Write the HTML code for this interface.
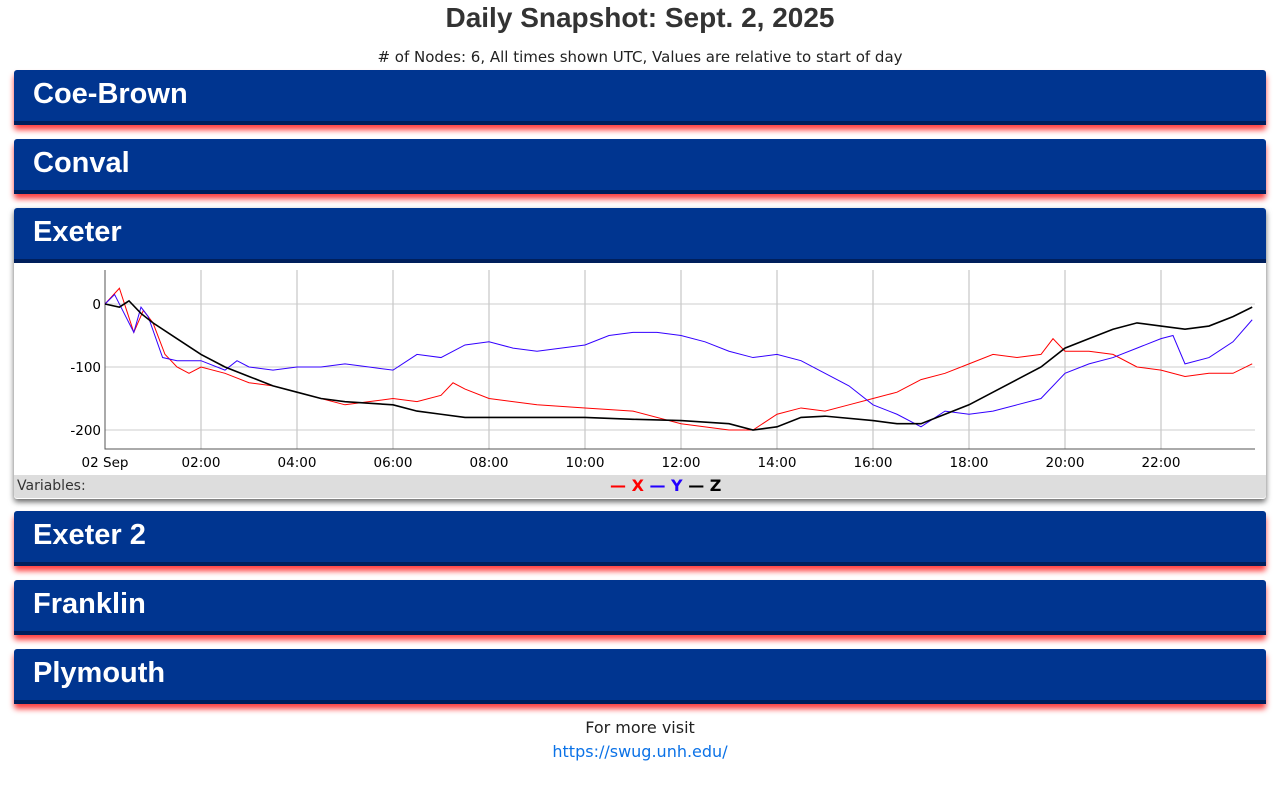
<!DOCTYPE html>
<html><head><meta charset="utf-8"><style>
body{margin:0;width:1280px;height:789px;background:#fff;font-family:"DejaVu Sans","Liberation Sans",sans-serif;overflow:hidden;position:relative}
.title{position:absolute;top:2px;left:0;width:1280px;text-align:center;font:bold 28px "Liberation Sans",sans-serif;color:#333}
.sub{position:absolute;top:48px;left:0;width:1280px;text-align:center;font-size:15px;color:#222}
.panel{position:absolute;left:14px;width:1252px;border-radius:3px;box-shadow:0 5px 6px rgba(255,0,0,.75)}
.hdr{height:51px;background:#003590;border-bottom:4px solid #001f5c;border-radius:3px 3px 0 0;color:#fff;font:bold 29px "Liberation Sans",sans-serif;padding-left:19px;line-height:48px}
.foot{position:absolute;top:718px;width:1280px;text-align:center;font-size:16px;color:#222}
.link{position:absolute;top:742px;width:1280px;text-align:center;font-size:16px;color:#0b72e7}
</style></head><body>
<div class="title">Daily Snapshot: Sept. 2, 2025</div>
<div class="sub"># of Nodes: 6, All times shown UTC, Values are relative to start of day</div>
<div class="panel" style="top:70px"><div class="hdr">Coe-Brown</div></div>
<div class="panel" style="top:139px"><div class="hdr">Conval</div></div>
<div class="panel" style="top:208px;height:291px;box-shadow:0 3px 6px rgba(0,0,0,.6);background:#fff">
<div class="hdr">Exeter</div>
<svg id="chart" width="1252" height="212" style="position:absolute;left:0;top:56px"></svg>
<div style="position:absolute;left:0;top:267px;width:1252px;height:23px;background:#ddd;font-size:14px;color:#333;border-radius:0 0 3px 3px"><span style="position:absolute;left:3px;top:3px">Variables:</span>
<span style="position:absolute;left:596px;top:1px;font:bold 16px 'DejaVu Sans',sans-serif"><span style="color:#f00">— X</span> <span style="color:#20f">— Y</span> <span style="color:#000">— Z</span></span></div>
</div>
<div class="panel" style="top:511px"><div class="hdr">Exeter 2</div></div>
<div class="panel" style="top:580px"><div class="hdr">Franklin</div></div>
<div class="panel" style="top:649px"><div class="hdr">Plymouth</div></div>
<div class="foot">For more visit</div>
<div class="link">https://swug.unh.edu/</div>
<script>
const xHours=[0,0.3,0.6,0.8,1,1.25,1.5,1.75,2,2.5,3,3.5,4,4.5,5,5.5,6,6.5,7,7.25,7.5,8,9,10,11,12,13,13.5,14,14.5,15,15.5,16,16.5,17,17.5,18,18.5,19,19.5,19.75,20,20.5,21,21.5,22,22.5,23,23.5,23.9];
const xVals=[0,25,-45,-10,-30,-80,-100,-110,-100,-110,-125,-130,-140,-150,-160,-155,-150,-155,-145,-125,-135,-150,-160,-165,-170,-190,-200,-200,-175,-165,-170,-160,-150,-140,-120,-110,-95,-80,-85,-80,-55,-75,-75,-80,-100,-105,-115,-110,-110,-95];
const yHours=[0,0.2,0.6,0.75,0.9,1.2,1.5,2,2.5,2.75,3,3.5,4,4.5,5,5.5,6,6.5,7,7.5,8,8.5,9,9.5,10,10.5,11,11.5,12,12.5,13,13.5,14,14.5,15,15.5,16,16.5,17,17.5,18,18.5,19,19.5,20,20.5,21,21.5,22,22.25,22.5,23,23.5,23.9];
const yVals=[0,15,-45,-5,-20,-85,-90,-90,-105,-90,-100,-105,-100,-100,-95,-100,-105,-80,-85,-65,-60,-70,-75,-70,-65,-50,-45,-45,-50,-60,-75,-85,-80,-90,-110,-130,-160,-175,-195,-170,-175,-170,-160,-150,-110,-95,-85,-70,-55,-50,-95,-85,-60,-25];
const zHours=[0,0.3,0.5,0.75,1,1.5,2,2.5,3,3.5,4,4.5,5,6,6.5,7,7.5,8,9,10,11,12,13,13.5,14,14.5,15,16,16.5,17,17.5,18,18.5,19,19.5,20,20.5,21,21.5,22,22.5,23,23.5,23.9];
const zVals=[0,-5,5,-15,-30,-55,-80,-100,-115,-130,-140,-150,-155,-160,-170,-175,-180,-180,-180,-180,-183,-185,-190,-200,-195,-180,-178,-185,-190,-190,-175,-160,-140,-120,-100,-70,-55,-40,-30,-35,-40,-35,-20,-5];
const yTicks=[0,-100,-200];
const xTickLabels=["02 Sep","02:00","04:00","06:00","08:00","10:00","12:00","14:00","16:00","18:00","20:00","22:00"];
const NS="http://www.w3.org/2000/svg",svg=document.getElementById('chart');
const L=91,R=1241,T=6,B=185;
const sx=h=>L+h*48, sy=v=>40-v*0.63;
function mk(t,a){const e=document.createElementNS(NS,t);for(const k in a)e.setAttribute(k,a[k]);svg.appendChild(e);return e;}
xTickLabels.forEach((lab,i)=>{const x=sx(i*2);
 if(i>0){const g=mk('line',{x1:x,x2:x,y1:T,y2:B,stroke:'#bbb'});}
 const t=mk('text',{x:x,y:B+18,'text-anchor':'middle','font-size':'13.5','font-family':'DejaVu Sans,sans-serif'});t.textContent=lab;
 });
yTicks.forEach(v=>{const y=sy(v);
 const g=mk('line',{x1:L,x2:R,y1:y,y2:y,stroke:'#ccc'});
 const t=mk('text',{x:L-4,y:y+5,'text-anchor':'end','font-size':'13.5','font-family':'DejaVu Sans,sans-serif'});t.textContent=v;
 });
const ax=mk('path',{d:`M${L},${T}V${B}H${R}`,fill:'none',stroke:'#555'});

[[xHours,xVals,'#f00','series-x'],[yHours,yVals,'#30f','series-y'],[zHours,zVals,'#000','series-z']].forEach(([hs,vs,c,n])=>{
 const p=mk('polyline',{points:hs.map((h,i)=>sx(h)+','+sy(vs[i])).join(' '),fill:'none',stroke:c,'stroke-width':c=='#000'?1.6:1});
 });
</script>
</body></html>
